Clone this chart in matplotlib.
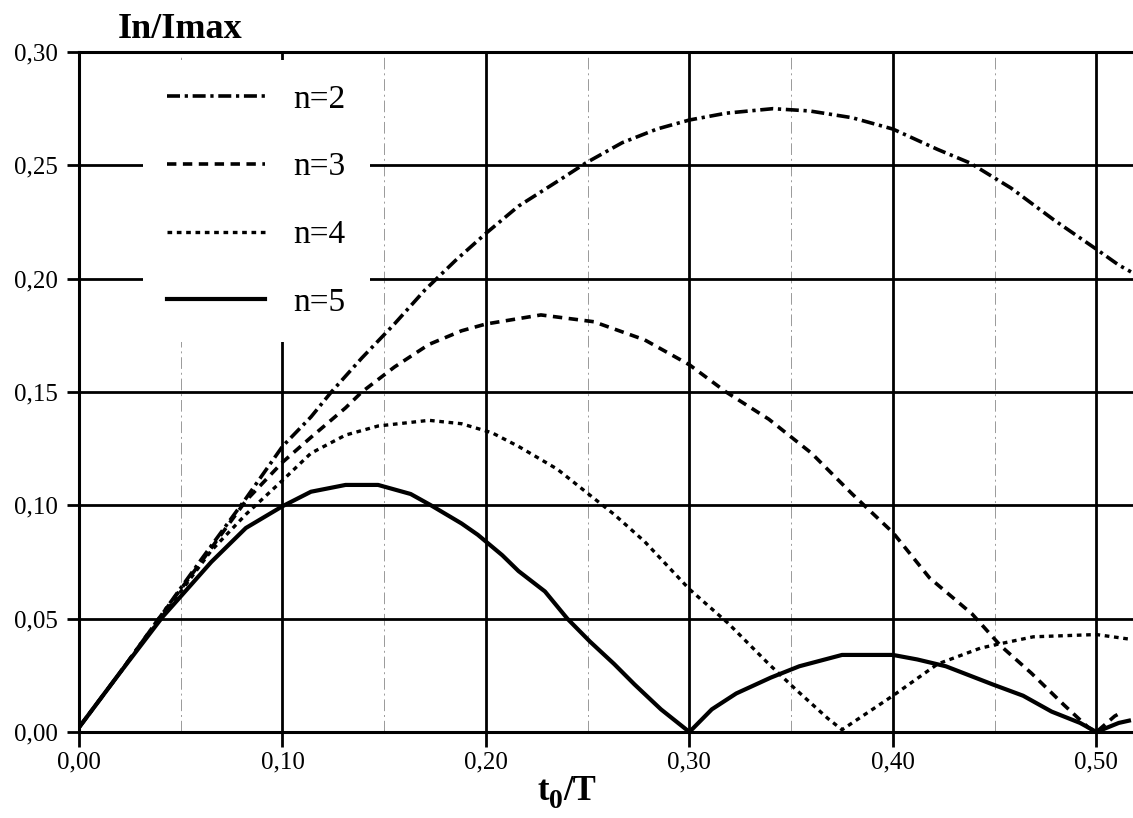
import numpy as np
import matplotlib
matplotlib.use('Agg')
import matplotlib.pyplot as plt
from matplotlib.ticker import MultipleLocator, FuncFormatter

# values (t0/T, In/Imax)
t_n2 = [0.000, 0.020, 0.040, 0.060, 0.082, 0.100, 0.114, 0.124, 0.139, 0.155, 0.170, 0.185,
        0.200, 0.216, 0.237, 0.249, 0.267, 0.284, 0.300, 0.318, 0.341, 0.359, 0.380, 0.400,
        0.422, 0.438, 0.458, 0.479, 0.500, 0.511, 0.517]
v_n2 = [0.002, 0.026, 0.051, 0.076, 0.103, 0.126, 0.139, 0.150, 0.165, 0.180, 0.195, 0.208,
        0.220, 0.232, 0.244, 0.251, 0.260, 0.266, 0.270, 0.273, 0.275, 0.274, 0.271, 0.266,
        0.257, 0.251, 0.240, 0.226, 0.213, 0.206, 0.203]

t_n3 = [0.000, 0.020, 0.040, 0.060, 0.082, 0.100, 0.114, 0.131, 0.139, 0.155, 0.172, 0.188,
        0.200, 0.227, 0.253, 0.278, 0.300, 0.318, 0.339, 0.360, 0.380, 0.400, 0.418, 0.439,
        0.453, 0.468, 0.484, 0.496, 0.500, 0.509, 0.513]
v_n3 = [0.002, 0.026, 0.051, 0.075, 0.102, 0.119, 0.130, 0.143, 0.150, 0.161, 0.171, 0.177,
        0.180, 0.184, 0.181, 0.173, 0.162, 0.150, 0.138, 0.123, 0.105, 0.088, 0.068, 0.052,
        0.038, 0.026, 0.012, 0.002, 0.000, 0.007, 0.009]

t_n4 = [0.000, 0.020, 0.040, 0.065, 0.082, 0.100, 0.114, 0.131, 0.147, 0.172, 0.188, 0.203,
        0.216, 0.235, 0.249, 0.263, 0.278, 0.300, 0.319, 0.339, 0.352, 0.368, 0.375, 0.380,
        0.400, 0.422, 0.443, 0.453, 0.469, 0.500, 0.516]
v_n4 = [0.002, 0.026, 0.050, 0.080, 0.096, 0.111, 0.123, 0.131, 0.135, 0.1375, 0.136, 0.132,
        0.126, 0.116, 0.106, 0.096, 0.084, 0.063, 0.048, 0.030, 0.019, 0.006, 0.001, 0.004,
        0.016, 0.030, 0.037, 0.039, 0.042, 0.043, 0.041]

t_n5 = [0.000, 0.020, 0.041, 0.065, 0.082, 0.100, 0.114, 0.131, 0.147, 0.163, 0.173, 0.188,
        0.196, 0.208, 0.216, 0.229, 0.240, 0.251, 0.263, 0.273, 0.286, 0.300, 0.311, 0.323,
        0.340, 0.354, 0.375, 0.400, 0.412, 0.426, 0.449, 0.464, 0.478, 0.492, 0.500, 0.511, 0.516]
v_n5 = [0.002, 0.026, 0.0507, 0.075, 0.090, 0.0996, 0.106, 0.109, 0.109, 0.105, 0.100, 0.092,
        0.087, 0.078, 0.071, 0.062, 0.050, 0.040, 0.030, 0.021, 0.010, 0.000, 0.010, 0.017,
        0.024, 0.029, 0.034, 0.034, 0.032, 0.029, 0.021, 0.016, 0.009, 0.004, 0.000, 0.004, 0.005]

labels = ['n=2', 'n=3', 'n=4', 'n=5']

plt.rcParams['font.family'] = ['Liberation Serif', 'DejaVu Serif']

fig = plt.figure(figsize=(11.33, 8.18), dpi=100)
ax = fig.add_axes([79 / 1133, 1 - 732 / 818, 1 - 79 / 1133, (732 - 52) / 818])

# curves
ax.plot(t_n2, v_n2, color='black', lw=2.6, linestyle=(0, (3.6, 1.3, 0.9, 1.3)), label=labels[0])
ax.plot(t_n3, v_n3, color='black', lw=2.6, linestyle=(0, (2.6, 1.8)), label=labels[1])
ax.plot(t_n4, v_n4, color='black', lw=2.4, linestyle=(0, (1.4, 1.4)), label=labels[2])
ax.plot(t_n5, v_n5, color='black', lw=3.0, linestyle='-', label=labels[3])

ax.set_xlim(0, 0.518)
ax.set_ylim(0, 0.30)

ax.xaxis.set_major_locator(MultipleLocator(0.10))
ax.xaxis.set_minor_locator(MultipleLocator(0.05))
ax.yaxis.set_major_locator(MultipleLocator(0.05))
comma = FuncFormatter(lambda v, pos: f'{v:.2f}'.replace('.', ','))
ax.xaxis.set_major_formatter(comma)
ax.yaxis.set_major_formatter(comma)

ax.grid(which='major', color='black', lw=2.0)
ax.grid(which='minor', axis='x', color='0.6', lw=0.7, linestyle=(0, (12, 4, 2, 4)))
ax.tick_params(axis='x', which='major', direction='out', length=11, width=2.0,
               labelsize=18, pad=3)
ax.tick_params(axis='x', which='minor', length=0)
ax.tick_params(axis='y', which='major', direction='out', length=9, width=2.0,
               labelsize=18, pad=6.5)

for s in ['left', 'bottom', 'top']:
    ax.spines[s].set_linewidth(2.2)
ax.spines['right'].set_visible(False)

leg = ax.legend(loc='upper left', bbox_to_anchor=(143 / 1133, 1 - 60 / 818),
                bbox_transform=fig.transFigure, fontsize=24, frameon=True,
                fancybox=False, borderaxespad=0, borderpad=0.72, labelspacing=1.12,
                handlelength=2.95, handletextpad=0.85)
leg.get_frame().set_facecolor('white')
leg.get_frame().set_edgecolor('none')
leg.get_frame().set_alpha(1)

fig.text(118 / 1133, 1 - 38 / 818, 'In/Imax', fontsize=26, fontweight='bold',
         ha='left', va='baseline')

# x label t0/T with a large lowered subscript
t_txt = fig.text(537 / 1133, 1 - 800 / 818, 't', fontsize=25, fontweight='bold',
                 ha='left', va='baseline')
sub = ax.annotate('0', xy=(1, 0), xycoords=t_txt, xytext=(0.5, -4),
                  textcoords='offset points', fontsize=20, fontweight='bold',
                  ha='left', va='bottom', annotation_clip=False)
ax.annotate('/T', xy=(1, 0), xycoords=(sub, t_txt), xytext=(0.5, 0),
            textcoords='offset points', fontsize=25, fontweight='bold',
            ha='left', va='bottom', annotation_clip=False)

fig.savefig('out.png', dpi=100)
